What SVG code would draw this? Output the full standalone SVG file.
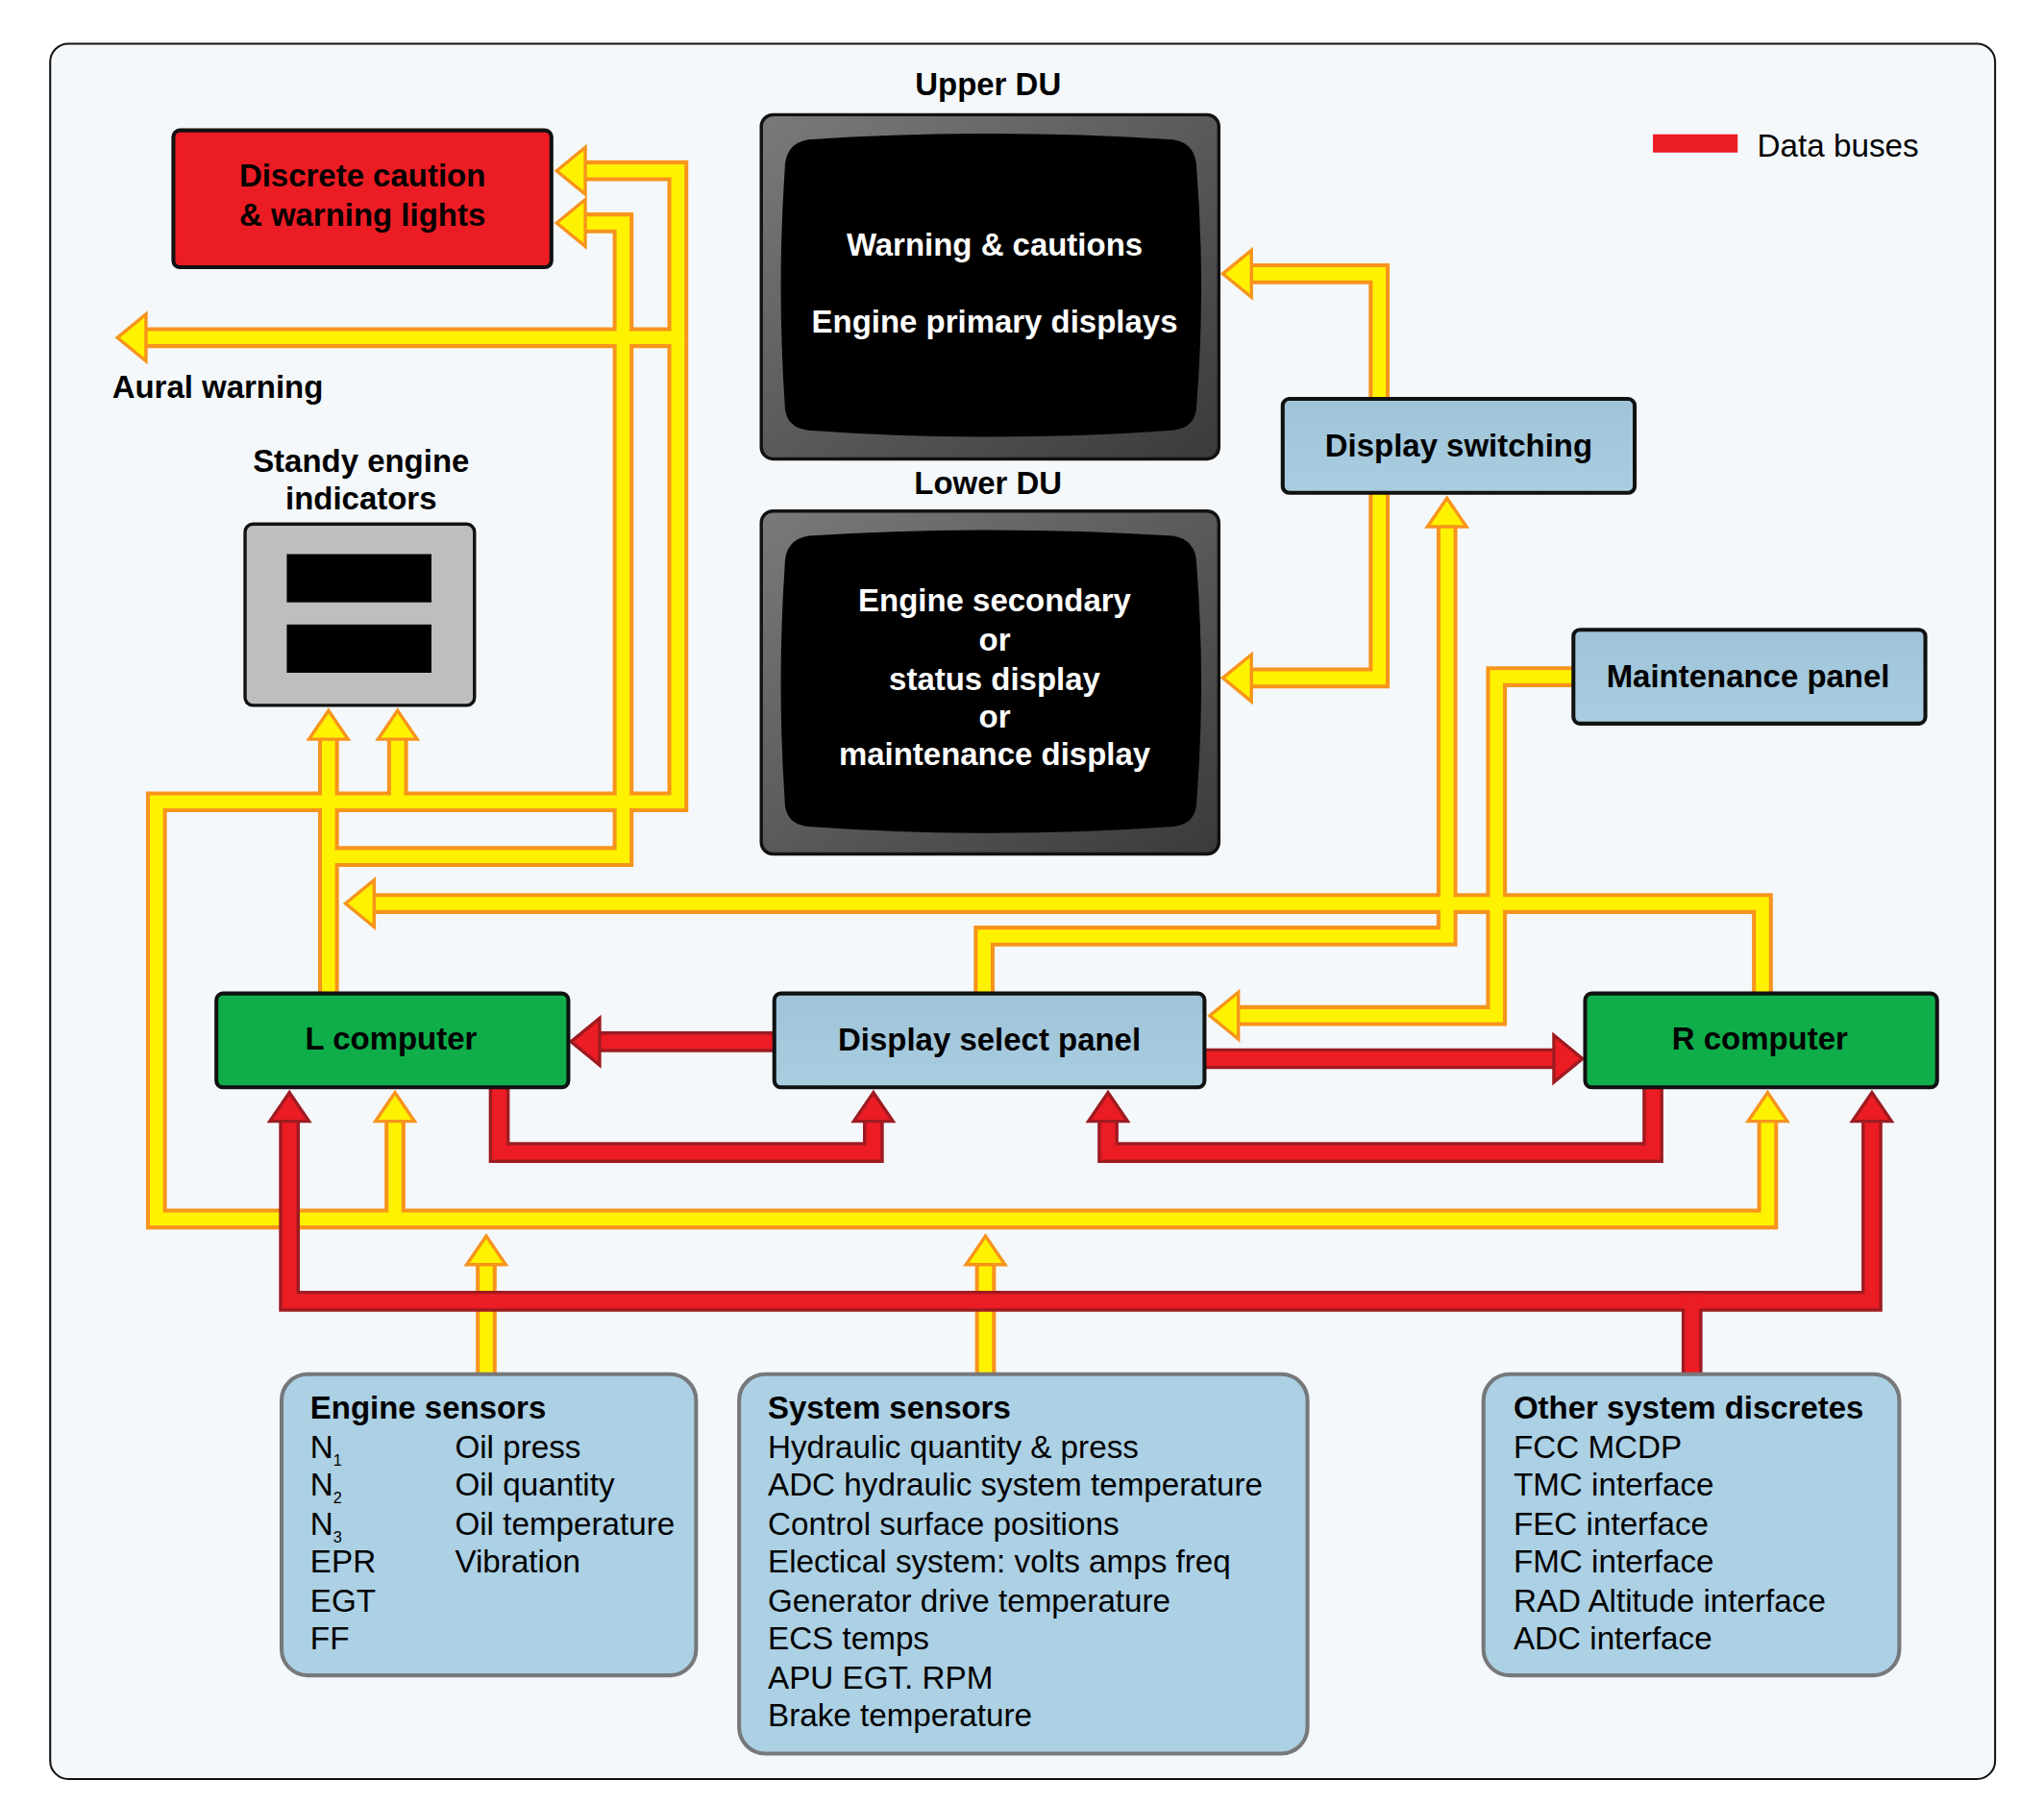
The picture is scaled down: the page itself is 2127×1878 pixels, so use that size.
<svg xmlns="http://www.w3.org/2000/svg" width="2127" height="1878" viewBox="0 0 2127 1878">
<defs>
<style>
.b{font-family:"Liberation Sans",Arial,sans-serif;font-weight:bold;font-size:24.3px;fill:#000}
.r{font-family:"Liberation Sans",Arial,sans-serif;font-size:24.5px;fill:#000}
.w{font-family:"Liberation Sans",Arial,sans-serif;font-weight:bold;font-size:24.3px;fill:#fff}
.yo{fill:none;stroke:#f7941d;stroke-width:16;stroke-linejoin:miter;stroke-linecap:butt}
.yi{fill:none;stroke:#fff200;stroke-width:10;stroke-linejoin:miter;stroke-linecap:square}
.ro{fill:none;stroke:#9e1b20;stroke-width:16;stroke-linejoin:miter}
.ri{fill:none;stroke:#ec1c24;stroke-width:11;stroke-linejoin:miter;stroke-linecap:square}
.ya{fill:#fff200;stroke:#f7941d;stroke-width:2.5}
.ra{fill:#ec1c24;stroke:#9e1b20;stroke-width:2.5}
.panel{fill:url(#blue);stroke:#111;stroke-width:3}
.sens{fill:#acd0e4;stroke:#77787b;stroke-width:3}
</style>
<linearGradient id="blue" x1="0" y1="0" x2="0" y2="1"><stop offset="0" stop-color="#9fc3d8"/><stop offset="1" stop-color="#a9cde0"/></linearGradient>
<linearGradient id="bez" x1="0" y1="0" x2="1" y2="1"><stop offset="0" stop-color="#7a7a7a"/><stop offset="0.5" stop-color="#5a5a5a"/><stop offset="1" stop-color="#3a3a3a"/></linearGradient>
</defs>
<g transform="scale(1.3565)">
<rect x="38.5" y="33.5" width="1492" height="1331" rx="14" fill="#f4f8fb" stroke="#111" stroke-width="1.5"/>
<g id="connectors">
<g class="yo">
<path d="M449,131 H520 V615 H120 V935 H1356 V860"/>
<path d="M305,567 V615"/><path d="M303,860 V935"/>
<path d="M449,171 H478 V657 H252"/><path d="M252,567 V762"/>
<path d="M112,259 H520"/>
<path d="M287,693 H1352 V762"/>
<path d="M373,1054 V970"/><path d="M756,1054 V970"/>
<path d="M755,762 V718 H1110 V404"/>
<path d="M1207,519 H1148 V779 H950"/>
<path d="M960,210 H1058 V306"/><path d="M1058,378 V520 H960"/>
</g>
<g class="yi">
<path d="M449,131 H520 V615 H120 V935 H1356 V860"/>
<path d="M305,567 V615"/><path d="M303,860 V935"/>
<path d="M449,171 H478 V657 H252"/><path d="M252,567 V762"/>
<path d="M112,259 H520"/>
<path d="M287,693 H1352 V760"/>
<path d="M373,1052 V970"/><path d="M756,1052 V970"/>
<path d="M755,760 V718 H1110 V404"/>
<path d="M1205,519 H1148 V779 H950"/>
<path d="M960,210 H1058 V304"/><path d="M1058,380 V520 H960"/>
</g>
<g class="ya">
<polygon points="427,131 449,113 449,149"/>
<polygon points="427,171 449,153 449,189"/>
<polygon points="90,259 112,241 112,277"/>
<polygon points="252,545 267,567 237,567"/>
<polygon points="305,545 320,567 290,567"/>
<polygon points="303,838 318,860 288,860"/>
<polygon points="1356,838 1371,860 1341,860"/>
<polygon points="265,693 287,675 287,711"/>
<polygon points="373,948 388,970 358,970"/>
<polygon points="756,948 771,970 741,970"/>
<polygon points="1110,382 1125,404 1095,404"/>
<polygon points="928,779 950,761 950,797"/>
<polygon points="938,210 960,192 960,228"/>
<polygon points="938,520 960,502 960,538"/>
</g>
<g class="ro">
<path d="M594,799 H460"/><path d="M924,812 H1192"/>
<path d="M383,834 V884 H670 V860"/><path d="M1268,834 V884 H850 V860"/>
<path d="M222,860 V998 H1436 V860"/><path d="M1298,1054 V998"/>
</g>
<g class="ri">
<path d="M592,799 H460"/><path d="M926,812 H1192"/>
<path d="M383,836 V884 H670 V860"/><path d="M1268,836 V884 H850 V860"/>
<path d="M222,860 V998 H1436 V860"/><path d="M1298,1052 V998"/>
</g>
<g class="ra">
<polygon points="438,799 460,781 460,817"/>
<polygon points="1214,812 1192,794 1192,830"/>
<polygon points="670,838 685,860 655,860"/>
<polygon points="850,838 865,860 835,860"/>
<polygon points="222,838 237,860 207,860"/>
<polygon points="1436,838 1451,860 1421,860"/>
</g>
</g>
<g id="discrete"><rect x="133" y="100" width="290" height="105" rx="5" fill="#ec1c24" stroke="#111" stroke-width="3"/>
<text class="b" x="278" y="143" text-anchor="middle">Discrete caution</text><text class="b" x="278" y="173" text-anchor="middle">&amp; warning lights</text></g>
<g id="aural"><text class="b" x="86" y="305">Aural warning</text></g>
<g id="standby"><text class="b" x="277" y="362" text-anchor="middle">Standy engine</text><text class="b" x="277" y="391" text-anchor="middle">indicators</text>
<rect x="188" y="402" width="176" height="139" rx="6" fill="#bcbec0" stroke="#111" stroke-width="2.5"/>
<rect x="220" y="425" width="111" height="37" fill="#000"/><rect x="220" y="479" width="111" height="37" fill="#000"/></g>
<g id="upperdu"><text class="b" x="758" y="73" text-anchor="middle">Upper DU</text>
<rect x="584" y="88" width="351" height="264" rx="9" fill="url(#bez)" stroke="#111" stroke-width="2.5"/>
<path d="M620,107 Q760,98 900,107 Q918,110 918,130 Q925,220 918,310 Q918,328 900,330 Q760,340 620,330 Q602,328 602,310 Q596,220 602,130 Q602,110 620,107 Z" fill="#000"/>
<text class="w" x="763" y="196" text-anchor="middle">Warning &amp; cautions</text>
<text class="w" x="763" y="255" text-anchor="middle">Engine primary displays</text></g>
<g id="lowerdu"><text class="b" x="758" y="379" text-anchor="middle">Lower DU</text>
<rect x="584" y="392" width="351" height="263" rx="9" fill="url(#bez)" stroke="#111" stroke-width="2.5"/>
<path d="M620,411 Q760,402 900,411 Q918,414 918,434 Q925,524 918,614 Q918,632 900,634 Q760,644 620,634 Q602,632 602,614 Q596,524 602,434 Q602,414 620,411 Z" fill="#000"/>
<text class="w" x="763" y="469" text-anchor="middle">Engine secondary</text>
<text class="w" x="763" y="499" text-anchor="middle">or</text>
<text class="w" x="763" y="529" text-anchor="middle">status display</text>
<text class="w" x="763" y="558" text-anchor="middle">or</text>
<text class="w" x="763" y="587" text-anchor="middle">maintenance display</text></g>
<g id="legend"><rect x="1268" y="103" width="65" height="14" fill="#ec1c24"/><text class="r" x="1348" y="120">Data buses</text></g>
<g id="switching"><rect class="panel" x="984" y="306" width="270" height="72" rx="5"/><text class="b" x="1119" y="350" text-anchor="middle">Display switching</text></g>
<g id="maint"><rect class="panel" x="1207" y="483" width="270" height="72" rx="5"/><text class="b" x="1341" y="527" text-anchor="middle">Maintenance panel</text></g>
<g id="lcomp"><rect x="166" y="762" width="270" height="72" rx="5" fill="#0fae4b" stroke="#111" stroke-width="3"/><text class="b" x="300" y="805" text-anchor="middle">L computer</text></g>
<g id="dsp"><rect class="panel" x="594" y="762" width="330" height="72" rx="5"/><text class="b" x="759" y="806" text-anchor="middle">Display select panel</text></g>
<g id="rcomp"><rect x="1216" y="762" width="270" height="72" rx="5" fill="#0fae4b" stroke="#111" stroke-width="3"/><text class="b" x="1350" y="805" text-anchor="middle">R computer</text></g>
<g id="engine"><rect class="sens" x="216" y="1054" width="318" height="231" rx="20"/>
<text class="b" x="238" y="1088">Engine sensors</text>
<text class="r" x="238" y="1118">N<tspan font-size="12" dy="6">1</tspan></text>
<text class="r" x="238" y="1147">N<tspan font-size="12" dy="6">2</tspan></text>
<text class="r" x="238" y="1177">N<tspan font-size="12" dy="6">3</tspan></text>
<text class="r" x="238" y="1206">EPR</text><text class="r" x="238" y="1236">EGT</text><text class="r" x="238" y="1265">FF</text>
<text class="r" x="349" y="1118">Oil press</text><text class="r" x="349" y="1147">Oil quantity</text><text class="r" x="349" y="1177">Oil temperature</text><text class="r" x="349" y="1206">Vibration</text></g>
<g id="system"><rect class="sens" x="567" y="1054" width="436" height="291" rx="20"/>
<text class="b" x="589" y="1088">System sensors</text>
<text class="r" x="589" y="1118">Hydraulic quantity &amp; press</text>
<text class="r" x="589" y="1147">ADC hydraulic system temperature</text>
<text class="r" x="589" y="1177">Control surface positions</text>
<text class="r" x="589" y="1206">Electical system: volts amps freq</text>
<text class="r" x="589" y="1236">Generator drive temperature</text>
<text class="r" x="589" y="1265">ECS temps</text>
<text class="r" x="589" y="1295">APU EGT. RPM</text>
<text class="r" x="589" y="1324">Brake temperature</text></g>
<g id="other"><rect class="sens" x="1138" y="1054" width="319" height="231" rx="20"/>
<text class="b" x="1161" y="1088">Other system discretes</text>
<text class="r" x="1161" y="1118">FCC MCDP</text><text class="r" x="1161" y="1147">TMC interface</text>
<text class="r" x="1161" y="1177">FEC interface</text><text class="r" x="1161" y="1206">FMC interface</text>
<text class="r" x="1161" y="1236">RAD Altitude interface</text><text class="r" x="1161" y="1265">ADC interface</text></g>
</g>
</svg>
